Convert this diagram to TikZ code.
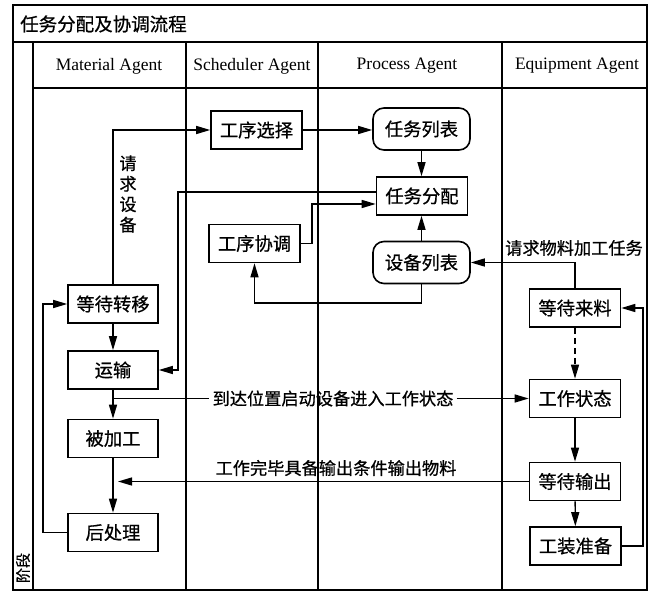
\documentclass[tikz,border=0pt]{standalone}
\usepackage{fontspec}
\setmainfont{Liberation Serif}
\newfontfamily\cjk[FakeBold=0.7]{Noto Sans CJK SC}
\usetikzlibrary{arrows.meta}
\begin{document}
\begin{tikzpicture}[x=1pt,y=-1pt,
  box/.style={draw, line width=1.6pt, minimum width=91pt, minimum height=38pt, inner sep=0pt, font=\cjk\fontsize{18.3}{20}\selectfont},
  rbox/.style={box, rounded corners=11pt, minimum width=97pt, minimum height=42pt},
  arr/.style={line width=1.4pt, -{Triangle[length=14pt,width=8pt]}},
  ln/.style={line width=1.4pt},
  frm/.style={line width=1.5pt},
  lbl/.style={font=\cjk\fontsize{17.2}{20}\selectfont, inner sep=3pt},
  hdr/.style={font=\fontsize{17.5}{20}\selectfont, inner sep=0pt}
]
\useasboundingbox (0,0) rectangle (653,593);
% frame
\draw[frm] (13,5) rectangle (647,590);
\draw[frm] (13,42) -- (647,42);
\draw[frm] (33,88) -- (647,88);
\draw[frm] (33,42) -- (33,590);
\draw[frm] (186,42) -- (186,590);
\draw[frm] (318,42) -- (318,590);
\draw[frm] (502,42) -- (502,590);
% titles
\node[anchor=west, inner sep=0pt, font=\cjk\fontsize{18.5}{20}\selectfont] (title) at (20,24) {任务分配及协调流程};
\node[hdr] (h1) at (109,66) {Material Agent};
\node[hdr] (h2) at (252,66) {Scheduler Agent};
\node[hdr] (h3) at (407,66) {Process Agent};
\node[hdr] (h4) at (577,66) {Equipment Agent};
\node[rotate=90, inner sep=0pt, font=\cjk\fontsize{15}{16}\selectfont] (jd) at (23,568) {阶段};
% boxes
\node[box] (xzxz) at (256.5,130) {工序选择};
\node[box] (xtgx) at (254.5,243.5) {工序协调};
\node[rbox] (rwlb) at (421.5,129) {任务列表};
\node[box] (rwfp) at (422,196) {任务分配};
\node[rbox] (sblb) at (421.5,262.5) {设备列表};
\node[box] (ddll) at (575,308) {等待来料};
\node[box] (gzzt) at (575,398.5) {工作状态};
\node[box] (ddsc) at (575,481.5) {等待输出};
\node[box] (gzzb) at (575.5,546) {工装准备};
\node[box, minimum width=90pt] (ddzy) at (113,304) {等待转移};
\node[box, minimum width=90pt] (ys) at (113,370) {运输};
\node[box, minimum width=90pt] (bjg) at (113,438.5) {被加工};
\node[box, minimum width=90pt] (hcl) at (113,532.5) {后处理};
% labels
\node[lbl, align=center, font=\cjk\fontsize{17.2}{20.5}\selectfont] (qqsb) at (128,194) {请\\求\\设\\备};
\node[lbl] (t0) at (574,248) {请求物料加工任务};
\node[lbl] (t1) at (333,398.5) {到达位置启动设备进入工作状态};
\node[lbl] (t2) at (336,468) {工作完毕具备输出条件输出物料};
% coordinates
\coordinate (c1) at (178,192);
\coordinate (c2) at (312,204);
\coordinate (c3) at (255,303);
\coordinate (c4) at (43,533);
\coordinate (c5) at (643,546);
\coordinate (e1) at (118,482);
% connectors
\draw[arr] (ddzy.north) |- (xzxz.west);
\draw[arr] (xzxz.east) -- (xzxz.east -| rwlb.west);
\draw[arr] (rwlb.south) -- (rwlb.south |- rwfp.north);
\draw[arr] (sblb.north) -- (sblb.north |- rwfp.south);
\draw[arr] (rwfp.west |- c1) -- (c1) |- (ys.east);
\draw[arr] (xtgx.east) -| (c2) -- (rwfp.west |- c2);
\draw[arr] (sblb.south) -- (sblb.south |- c3) -| (xtgx.south);
\draw[arr] (ddll.north) |- (sblb.east);
\draw[arr] (ddzy) -- (ys);
\draw[arr] (ys) -- (bjg);
\draw[ln] (ys.south |- t1) -- (t1.west);
\draw[arr] (t1.east) -- (gzzt.west);
\draw[arr] (bjg) -- (hcl);
\draw[arr] (ddsc.west) -- (ddsc.west -| e1);
\draw[arr] (hcl.west) -- (hcl.west -| c4) |- (ddzy.west);
\draw[arr, dash pattern=on 6pt off 4pt] (ddll) -- (gzzt);
\draw[arr] (gzzt) -- (ddsc);
\draw[arr] (ddsc) -- (gzzb);
\draw[arr] (gzzb.east) -- (c5) |- (ddll.east);
\end{tikzpicture}
\end{document}
